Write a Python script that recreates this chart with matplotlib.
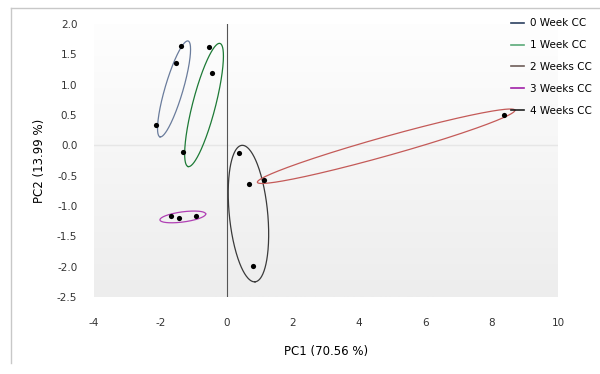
import numpy as np
import matplotlib
matplotlib.use("Agg")
import matplotlib.pyplot as plt
from matplotlib.lines import Line2D

plt.rcParams['axes.unicode_minus'] = False

# PCA scores
pc1_0w = [-1.36, -1.53, -2.12]
pc2_0w = [1.63, 1.35, 0.33]
pc1_1w = [-0.52, -0.44, -1.31]
pc2_1w = [1.62, 1.20, -0.11]
pc1_3w = [-1.68, -1.44, -0.93]
pc2_3w = [-1.16, -1.20, -1.16]
pc1_4w = [0.37, 0.68, 0.79]
pc2_4w = [-0.13, -0.63, -1.99]
pc1_2w = [1.14, 8.37]
pc2_2w = [-0.57, 0.50]

# ellipses: the two tips of the long axis (data) and short/long axis ratio
ell_tip1 = [(-1.16, 1.72), (-0.20, 1.68), (-2.01, -1.23), (0.46, 0.00), (0.93, -0.61)]
ell_tip2 = [(-2.01, 0.14), (-1.16, -0.35), (-0.63, -1.13), (0.86, -2.25), (8.70, 0.58)]
ell_ratio = [0.18, 0.18, 0.22, 0.28, 0.071]
ell_colors = ['#6a7c9c', '#1d7a36', '#b040b4', '#3a3a3a', '#c45a58']

labels = ['0 Week CC', '1 Week CC', '2 Weeks CC', '3 Weeks CC', '4 Weeks CC']
legend_colors = ['#2b4060', '#5aaa78', '#6e5d58', '#a020a8', '#202020']


def ellipse_xy(ax, p1, p2, ratio, n=300):
    # build the ellipse in display space so it looks right on the unequal axes
    d1, d2 = ax.transData.transform([p1, p2])
    c = (d1 + d2) / 2
    a = (d2 - d1) / 2
    b = np.array([-a[1], a[0]]) * ratio
    t = np.linspace(0, 2 * np.pi, n)
    pts = c + np.outer(np.cos(t), a) + np.outer(np.sin(t), b)
    return ax.transData.inverted().transform(pts)


fig = plt.figure(figsize=(6, 3.74), dpi=100)
ax = fig.add_axes([94 / 600, 1 - 297 / 374, 464 / 600, 273 / 374])
ax.set_xlim(-4, 10)
ax.set_ylim(-2.5, 2.0)

# gradient plot area like the spreadsheet chart
grad = np.linspace(0, 1, 256).reshape(-1, 1)
ax.imshow(grad, extent=[0, 1, 0, 1], transform=ax.transAxes, aspect='auto',
          cmap=matplotlib.colors.LinearSegmentedColormap.from_list('g', ['#fefefe', '#ededed']),
          zorder=0)

ax.axhline(0, color='#e6e6e6', lw=1, zorder=1)
ax.axvline(0, color='#555555', lw=0.8, zorder=1)

for p1, p2, r, col in zip(ell_tip1, ell_tip2, ell_ratio, ell_colors):
    xy = ellipse_xy(ax, p1, p2, r)
    ax.plot(xy[:, 0], xy[:, 1], color=col, lw=0.9, zorder=2)

for xs, ys in [(pc1_0w, pc2_0w), (pc1_1w, pc2_1w), (pc1_2w, pc2_2w),
               (pc1_3w, pc2_3w), (pc1_4w, pc2_4w)]:
    ax.scatter(xs, ys, s=14, color='black', zorder=3, linewidths=0)

for s in ax.spines.values():
    s.set_visible(False)
ax.set_xticks(np.arange(-4, 11, 2))
ax.set_yticks(np.arange(-2.5, 2.01, 0.5))
ax.set_yticklabels([f"{v:.1f}" for v in np.arange(-2.5, 2.01, 0.5)])
ax.tick_params(length=0, labelsize=7.5, labelcolor='#333333')
ax.tick_params(axis='x', pad=15)
ax.tick_params(axis='y', pad=12)
ax.set_xlabel('PC1 (70.56 %)', fontsize=8.5, labelpad=12)
ax.set_ylabel('PC2 (13.99 %)', fontsize=8.5, labelpad=8)

handles = [Line2D([], [], color=c, lw=1.2) for c in legend_colors]
fig.legend(handles, labels, loc='upper left', bbox_to_anchor=(507 / 600, 1 - 14 / 374),
           frameon=False, fontsize=7.5, handlelength=1.2, handletextpad=0.6,
           labelspacing=1.15, borderaxespad=0)

# outer chart border (top and left edges visible in the reference)
fig.add_artist(Line2D([11 / 600, 1], [1 - 8 / 374, 1 - 8 / 374], color='#c8c8c8', lw=1,
                      transform=fig.transFigure))
fig.add_artist(Line2D([11 / 600, 11 / 600], [1 - 8 / 374, 1 - 363 / 374], color='#c8c8c8', lw=1,
                      transform=fig.transFigure))

fig.savefig('out.png', dpi=100)
